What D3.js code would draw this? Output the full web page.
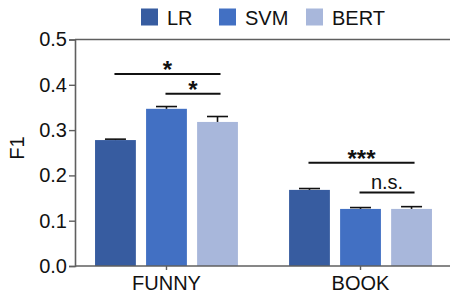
<!DOCTYPE html>
<html>
<head>
<meta charset="utf-8">
<script src="https://cdn.jsdelivr.net/npm/d3@7"></script>
<style>
  body { margin: 0; background: #fff; }
  svg { font-family: "Liberation Sans", Arial, sans-serif; }
</style>
</head>
<body>
<div id="chart"></div>
<script>
// data
var groups = ['FUNNY', 'BOOK'];
var models = ['LR', 'SVM', 'BERT'];
var meanLR   = [0.278, 0.168];
var meanSVM  = [0.347, 0.126];
var meanBERT = [0.318, 0.126];
var errLR    = [0.002, 0.003];
var errSVM   = [0.005, 0.003];
var errBERT  = [0.012, 0.005];
var yTicks = [0, 0.1, 0.2, 0.3, 0.4, 0.5];
// significance brackets: group, from model, to model, level (F1 units), label
var sigGroup = ['FUNNY', 'FUNNY', 'BOOK', 'BOOK'];
var sigFrom  = ['LR', 'SVM', 'LR', 'SVM'];
var sigTo    = ['BERT', 'BERT', 'BERT', 'BERT'];
var sigLevel = [0.424, 0.380, 0.228, 0.162];
var sigLabel = ['*', '*', '***', 'n.s.'];

var colors = { LR: '#375ca0', SVM: '#4270c3', BERT: '#a8b7db' };

var means = { LR: meanLR, SVM: meanSVM, BERT: meanBERT };
var errs  = { LR: errLR, SVM: errSVM, BERT: errBERT };

var width = 450, height = 293;
var axisX = 75, axisY = 266, topY = 39.5;

var svg = d3.select('#chart')
  .append('svg')
  .attr('width', width)
  .attr('height', height);

var y = d3.scaleLinear().domain([0, 0.5]).range([axisY, topY]);

var x0 = d3.scaleBand()
  .domain(groups)
  .range([axisX, 452])
  .paddingInner(0.211)
  .paddingOuter(0.077);

var x1 = d3.scaleBand()
  .domain(models)
  .range([0, x0.bandwidth()])
  .paddingInner(0.2)
  .paddingOuter(0.1);

var rows = [];
groups.forEach(function(g, gi) {
  models.forEach(function(m) {
    rows.push({ group: g, model: m, value: means[m][gi], err: errs[m][gi] });
  });
});

// top frame line at 0.5
svg.append('line')
  .attr('x1', axisX).attr('x2', width)
  .attr('y1', y(0.5)).attr('y2', y(0.5))
  .attr('stroke', '#5f5f5f')
  .attr('stroke-width', 1.6);

// bars
svg.selectAll('rect.bar')
  .data(rows)
  .enter()
  .append('rect')
  .attr('class', 'bar')
  .attr('x', d => x0(d.group) + x1(d.model))
  .attr('y', d => y(d.value))
  .attr('width', x1.bandwidth())
  .attr('height', d => y(0) - y(d.value))
  .attr('fill', d => colors[d.model]);

// error bars
var eb = svg.selectAll('g.err')
  .data(rows)
  .enter()
  .append('g')
  .attr('class', 'err')
  .attr('transform', d => `translate(${x0(d.group) + x1(d.model) + x1.bandwidth() / 2},0)`);

eb.append('line')
  .attr('x1', 0).attr('x2', 0)
  .attr('y1', d => y(d.value))
  .attr('y2', d => y(d.value + d.err))
  .attr('stroke', '#111')
  .attr('stroke-width', 1.6);

eb.append('line')
  .attr('x1', -10.5).attr('x2', 10.5)
  .attr('y1', d => y(d.value + d.err))
  .attr('y2', d => y(d.value + d.err))
  .attr('stroke', '#111')
  .attr('stroke-width', 1.6);

// axes
var yAxis = d3.axisLeft(y)
  .tickValues(yTicks)
  .tickFormat(d3.format('.1f'))
  .tickSize(6)
  .tickPadding(2);

var xAxis = d3.axisBottom(x0)
  .tickSize(4)
  .tickPadding(6);

var gy = svg.append('g')
  .attr('transform', `translate(${axisX},0)`)
  .call(yAxis);

var gx = svg.append('g')
  .attr('transform', `translate(0,${axisY})`)
  .call(xAxis);

gx.select('.domain').attr('d', `M${axisX},0H${width}`);

[gx, gy].forEach(function(g) {
  g.select('.domain').attr('stroke', '#5f5f5f').attr('stroke-width', 1.6);
  g.selectAll('.tick line').attr('stroke', '#5f5f5f').attr('stroke-width', 1.4);
  g.selectAll('.tick text')
    .attr('fill', '#111')
    .style('font-size', '20px')
    .style('font-family', '"Liberation Sans", Arial, sans-serif');
});

// y label
svg.append('text')
  .attr('transform', 'translate(24,148) rotate(-90)')
  .attr('text-anchor', 'middle')
  .style('font-size', '20px')
  .attr('fill', '#111')
  .text('F1');

// significance brackets
var sig = sigLabel.map(function(l, i) {
  return { group: sigGroup[i], from: sigFrom[i], to: sigTo[i], level: sigLevel[i], label: l };
});

var sg = svg.selectAll('g.sig')
  .data(sig)
  .enter()
  .append('g')
  .attr('class', 'sig');

sg.append('line')
  .attr('x1', d => x0(d.group) + x1(d.from) + x1.bandwidth() / 2 - 1)
  .attr('x2', d => x0(d.group) + x1(d.to) + x1.bandwidth() / 2 + 3)
  .attr('y1', d => y(d.level))
  .attr('y2', d => y(d.level))
  .attr('stroke', '#111')
  .attr('stroke-width', 2);

sg.append('text')
  .attr('x', d => (x0(d.group) + x1(d.from) + x0(d.group) + x1(d.to) + x1.bandwidth()) / 2 + 1)
  .attr('y', d => y(d.level) + (d.label[0] === '*' ? 4 : -4))
  .attr('text-anchor', 'middle')
  .style('font-size', d => d.label[0] === '*' ? '24px' : '20px')
  .style('font-weight', d => d.label[0] === '*' ? 'bold' : 'normal')
  .attr('fill', '#111')
  .text(d => d.label);

// legend
var legendX = [141, 219, 306];
var legend = svg.selectAll('g.legend')
  .data(models)
  .enter()
  .append('g')
  .attr('class', 'legend')
  .attr('transform', (d, i) => `translate(${legendX[i]},8.5)`);

legend.append('rect')
  .attr('width', 17)
  .attr('height', 17)
  .attr('fill', d => colors[d]);

legend.append('text')
  .attr('x', 26)
  .attr('y', 16)
  .style('font-size', '20px')
  .attr('fill', '#111')
  .text(d => d);
</script>
</body>
</html>
